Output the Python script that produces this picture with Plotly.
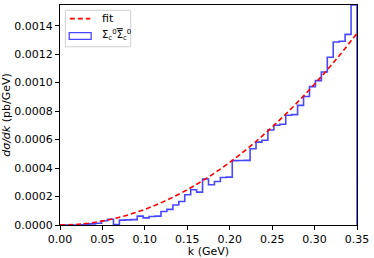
import numpy as np
import plotly.graph_objects as go

# ---- data ----
k_min, k_max, n_bins = 0.0, 0.35, 50
hist_values = [
    0.0, 0.0, 0.0, 0.000002, 0.000006, 0.000008, 0.000012, 0.000030, 0.000040, 0.000003,
    0.000034, 0.000036, 0.000038, 0.000062, 0.000050, 0.000060, 0.000062, 0.000095, 0.000110, 0.000140,
    0.000165, 0.000212, 0.000248, 0.000231, 0.000323, 0.000283, 0.000306, 0.000334, 0.000336, 0.000452,
    0.000453, 0.000454, 0.000535, 0.000582, 0.000595, 0.000667, 0.000700, 0.000708, 0.000771, 0.000775,
    0.000840, 0.000902, 0.000972, 0.001014, 0.001075, 0.001178, 0.001285, 0.001290, 0.001339, 0.001545,
]
fit_k = [0, 0.025, 0.05, 0.075, 0.1, 0.125, 0.15, 0.175, 0.2, 0.225, 0.25, 0.275, 0.3, 0.325, 0.35]
fit_vals = [0, 0.0000069, 0.0000275, 0.000062, 0.00011, 0.000172, 0.000248, 0.000337,
            0.00044, 0.000557, 0.000688, 0.000832, 0.00099, 0.00116, 0.001346]
x_ticks = [0.00, 0.05, 0.10, 0.15, 0.20, 0.25, 0.30, 0.35]
y_ticks = [0.0, 0.0002, 0.0004, 0.0006, 0.0008, 0.0010, 0.0012, 0.0014]

edges = np.linspace(k_min, k_max, n_bins + 1)
step_x = [edges[0]] + list(edges)
step_y = [0.0] + list(hist_values) + [0.0]

FONT = "DejaVu Sans"
fig = go.Figure()
fig.add_trace(go.Scatter(x=step_x, y=step_y, mode="lines", line_shape="hv",
                         line=dict(color="rgba(0,0,255,0.72)", width=1.6),
                         showlegend=False, hoverinfo="skip", cliponaxis=False))
fig.add_trace(go.Scatter(x=fit_k, y=fit_vals, mode="lines", line_shape="spline",
                         line=dict(color="red", width=1.6, dash="5px,3px"),
                         showlegend=False, hoverinfo="skip"))

fig.update_layout(
    width=374, height=258,
    margin=dict(l=60, r=17, t=5, b=33),
    paper_bgcolor="white", plot_bgcolor="white",
    font=dict(family=FONT, size=11, color="black"),
    showlegend=False,
)
fig.update_xaxes(range=[k_min, k_max], tickvals=x_ticks, ticktext=[f"{v:.2f}" for v in x_ticks],
                 showline=True, mirror=True, linecolor="black", linewidth=1,
                 ticks="outside", ticklen=4, tickwidth=1, tickcolor="black",
                 showgrid=False, zeroline=False, automargin=False,
                 title=dict(text="k (GeV)", standoff=2, font=dict(size=11)))
fig.update_yaxes(range=[0, max(hist_values)], tickvals=y_ticks, ticktext=[f"{v:.4f}" for v in y_ticks],
                 showline=True, mirror=True, linecolor="black", linewidth=1,
                 ticks="outside", ticklen=4, tickwidth=1, tickcolor="black",
                 showgrid=False, zeroline=False, automargin=False,
                 title=dict(text="<i>dσ/dk</i> (pb/GeV)", standoff=1, font=dict(size=11)))

# legend drawn manually (matplotlib-style)
x0, x1, y0, y1 = 0.018, 0.238, 0.81, 0.976
fig.add_shape(type="rect", xref="paper", yref="paper", x0=x0, x1=x1, y0=y0, y1=y1,
              line=dict(color="#d0d0d0", width=1), fillcolor="rgba(255,255,255,0.8)", layer="above")
fig.add_shape(type="line", xref="paper", yref="paper", x0=0.033, x1=0.102, y0=0.938, y1=0.938,
              line=dict(color="red", width=1.6, dash="5px,3px"), layer="above")
fig.add_shape(type="rect", xref="paper", yref="paper", x0=0.031, x1=0.105, y0=0.844, y1=0.874,
              line=dict(color="rgba(0,0,255,0.72)", width=1.3), fillcolor="rgba(0,0,0,0)", layer="above")
fig.add_annotation(xref="paper", yref="paper", x=0.133, y=0.94, text="fit", showarrow=False,
                   xanchor="left", yanchor="middle", font=dict(size=11))
fig.add_annotation(xref="paper", yref="paper", x=0.133, y=0.862,
                   text="Σ<sub>c</sub><sup>0</sup><span style='text-decoration:overline'>Σ</span><sub>c</sub><sup>0</sup>",
                   showarrow=False, xanchor="left", yanchor="middle", font=dict(size=10))

fig.write_html("out.html", config={"displayModeBar": False},
               post_script="document.body.style.margin='0';document.body.style.padding='0';")
